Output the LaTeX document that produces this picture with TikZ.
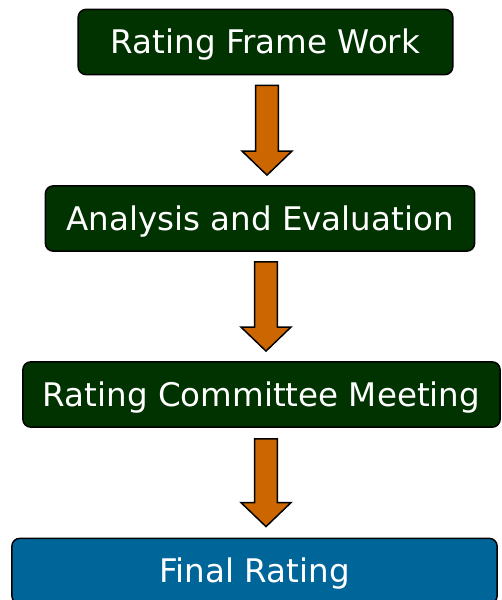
\documentclass[tikz,border=0pt]{standalone}
\usepackage{fontspec}
\setmainfont{DejaVu Sans}
\usetikzlibrary{calc}

\definecolor{boxgreen}{RGB}{0,51,0}
\definecolor{boxblue}{RGB}{0,102,153}
\definecolor{arroworange}{RGB}{204,102,0}

\tikzstyle{stage}=[rectangle,rounded corners=6pt,draw=black,line width=1.1pt,fill=boxgreen,text=white,font=\fontsize{24.4}{29}\selectfont,text height=17.8pt,text depth=0pt,minimum height=49pt]
\tikzstyle{blockarrow}=[draw=black,line width=1.1pt,fill=arroworange,
	to path={let \p1=(\tikztostart), \p2=(\tikztotarget) in
		(\x1-8.6pt,\y1) -- (\x1+8.6pt,\y1) -- (\x1+8.6pt,\y2+18pt) -- (\x1+18.75pt,\y2+18pt)
		-- (\x1,\y2) -- (\x1-18.75pt,\y2+18pt) -- (\x1-8.6pt,\y2+18pt) -- cycle}]

\begin{document}
\begin{tikzpicture}[x=0.75pt,y=-0.75pt]
	\useasboundingbox (0,0) rectangle (501,600);

	\node[stage,minimum width=281pt] (frame) at (265.5,42) {Rating Frame Work};
	\node[stage,minimum width=322pt] (analysis) at (260,218.5) {Analysis and Evaluation};
	\node[stage,minimum width=358pt] (committee) at (261.5,394.5) {Rating Committee Meeting};
	\node[stage,fill=boxblue,minimum width=364pt] (final) at (254.5,571) {Final Rating};

	% arrows between stages
	\draw[blockarrow] ([shift={(1.5,10)}]frame.south) to ([shift={(7,-10)}]analysis.north);
	\draw[blockarrow] ([shift={(6,10)}]analysis.south) to ([shift={(4.5,-10)}]committee.north);
	\draw[blockarrow] ([shift={(4.5,11)}]committee.south) to ([shift={(11.5,-11)}]final.north);
\end{tikzpicture}
\end{document}
